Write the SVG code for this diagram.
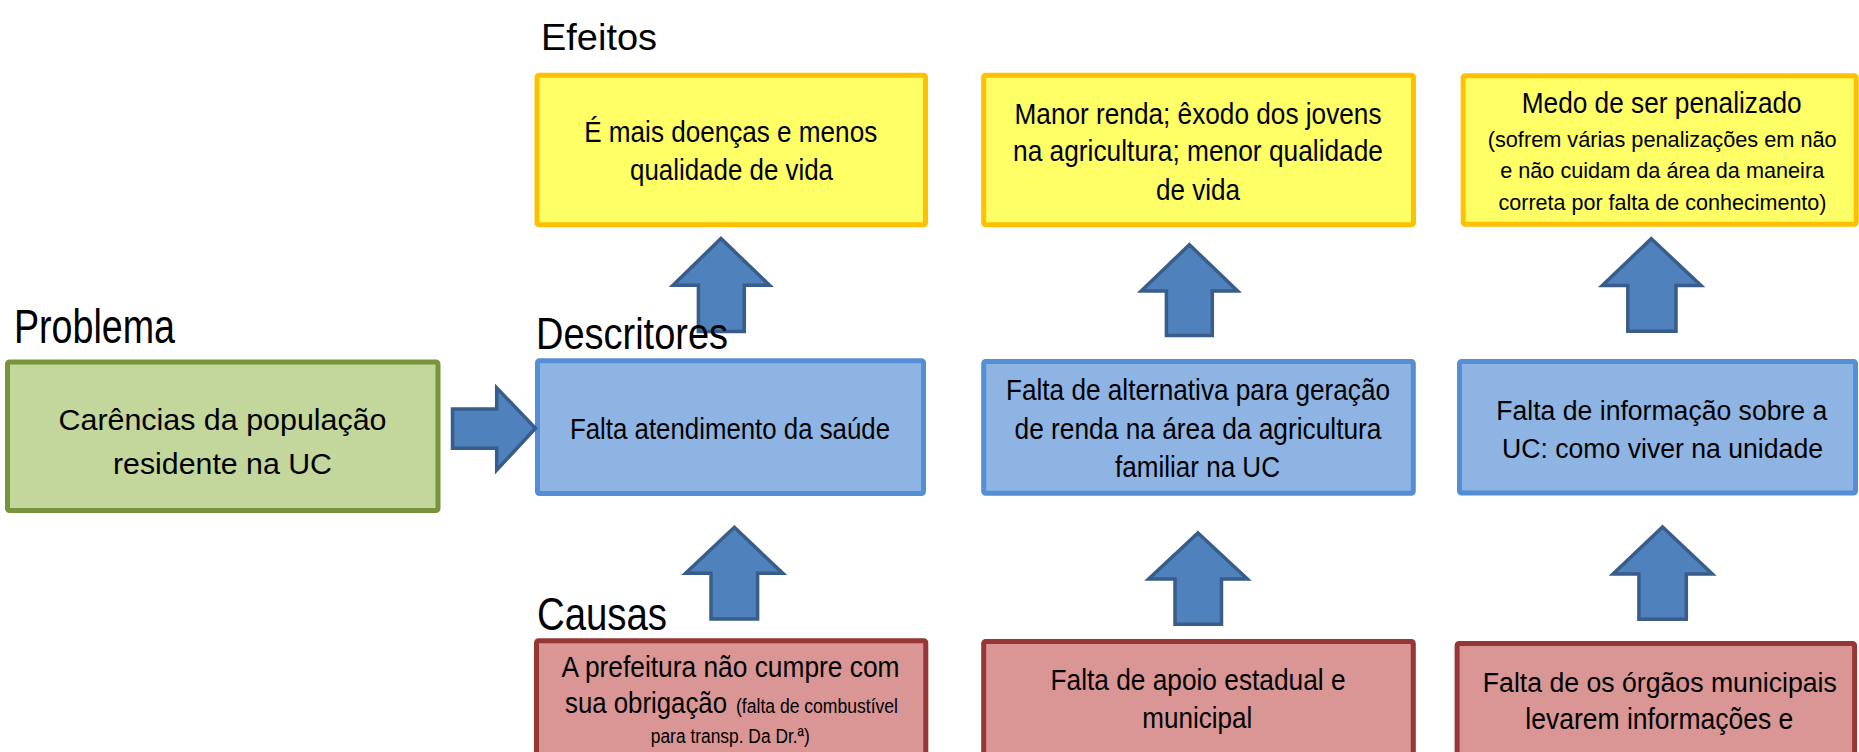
<svg xmlns="http://www.w3.org/2000/svg" width="1859" height="752" viewBox="0 0 1859 752">
<style>
text{font-family:"Liberation Sans",Arial,sans-serif;fill:#000}
.b{font-size:30px;text-anchor:middle}
.r{font-size:27px;text-anchor:middle}
.s{font-size:22.5px;text-anchor:middle}
.yel{fill:#FFFF66;stroke:#FFC000;stroke-width:5}
.blu{fill:#8EB4E3;stroke:#558ED5;stroke-width:5}
.red{fill:#D99694;stroke:#953735;stroke-width:5}
.grn{fill:#C3D69B;stroke:#77933C;stroke-width:5}
.arr{fill:#4F81BD;stroke:#385D8A;stroke-width:3.5;stroke-linejoin:miter}
</style>
<rect width="1859" height="752" fill="#fff"/>

<g id="problema">
<rect class="grn" x="7.5" y="362" width="430.5" height="148.5" rx="2"/>
<text class="b" x="222.5" y="430" font-size="31" textLength="328" lengthAdjust="spacingAndGlyphs">Carências da população</text>
<text class="b" x="222.5" y="474" font-size="31" textLength="219" lengthAdjust="spacingAndGlyphs">residente na UC</text>
</g>

<g id="efeito1">
<rect class="yel" x="537" y="75.2" width="388.5" height="149.6" rx="2"/>
<text class="b" x="730.7" y="141.7" textLength="293" lengthAdjust="spacingAndGlyphs">É mais doenças e menos</text>
<text class="b" x="731.5" y="180" textLength="203" lengthAdjust="spacingAndGlyphs">qualidade de vida</text>
</g>

<g id="efeito2">
<rect class="yel" x="983.7" y="75.2" width="429.8" height="149.6" rx="2"/>
<text class="b" x="1198" y="124" textLength="367" lengthAdjust="spacingAndGlyphs">Manor renda; êxodo dos jovens</text>
<text class="b" x="1198" y="160.7" textLength="370" lengthAdjust="spacingAndGlyphs">na agricultura; menor qualidade</text>
<text class="b" x="1198" y="200" textLength="84" lengthAdjust="spacingAndGlyphs">de vida</text>
</g>

<g id="efeito3">
<rect class="yel" x="1463.2" y="75.8" width="393" height="148.4" rx="2"/>
<text class="b" x="1661.7" y="113.3" textLength="280" lengthAdjust="spacingAndGlyphs">Medo de ser penalizado</text>
<text class="s" x="1662.2" y="147" textLength="349" lengthAdjust="spacingAndGlyphs">(sofrem várias penalizações em não</text>
<text class="s" x="1662.2" y="178.3" textLength="324" lengthAdjust="spacingAndGlyphs">e não cuidam da área da maneira</text>
<text class="s" x="1662.5" y="210" textLength="328" lengthAdjust="spacingAndGlyphs">correta por falta de conhecimento)</text>
</g>

<g id="descritor1">
<rect class="blu" x="537.5" y="360.8" width="386" height="132.7" rx="2"/>
<text class="b" x="730" y="439" textLength="320" lengthAdjust="spacingAndGlyphs">Falta atendimento da saúde</text>
</g>

<g id="descritor2">
<rect class="blu" x="983.7" y="361.5" width="429.6" height="131.7" rx="2"/>
<text class="b" x="1198" y="400" textLength="384" lengthAdjust="spacingAndGlyphs">Falta de alternativa para geração</text>
<text class="b" x="1198" y="439" textLength="367" lengthAdjust="spacingAndGlyphs">de renda na área da agricultura</text>
<text class="b" x="1197.5" y="476.7" textLength="165" lengthAdjust="spacingAndGlyphs">familiar na UC</text>
</g>

<g id="descritor3">
<rect class="blu" x="1459.5" y="361.5" width="396" height="131.5" rx="2"/>
<text class="r" x="1661.8" y="420.2" textLength="331" lengthAdjust="spacingAndGlyphs">Falta de informação sobre a</text>
<text class="r" x="1662.5" y="457.5" textLength="321" lengthAdjust="spacingAndGlyphs">UC: como viver na unidade</text>
</g>

<g id="causa1">
<rect class="red" x="536.5" y="640.8" width="389.3" height="130" rx="2"/>
<text class="b" x="730.5" y="676.7" textLength="338" lengthAdjust="spacingAndGlyphs">A prefeitura não cumpre com</text>
<text x="565" y="713.3" font-size="30" textLength="162" lengthAdjust="spacingAndGlyphs">sua obrigação</text>
<text x="736" y="713.3" font-size="20" textLength="162" lengthAdjust="spacingAndGlyphs">(falta de combustível</text>
<text x="730.3" y="742.7" font-size="20" text-anchor="middle" textLength="159" lengthAdjust="spacingAndGlyphs">para transp. Da Dr.ª)</text>
</g>

<g id="causa2">
<rect class="red" x="983.7" y="641.5" width="429.6" height="130" rx="2"/>
<text class="b" x="1198" y="690" textLength="295" lengthAdjust="spacingAndGlyphs">Falta de apoio estadual e</text>
<text class="b" x="1197.3" y="728.3" textLength="110" lengthAdjust="spacingAndGlyphs">municipal</text>
</g>

<g id="causa3">
<rect class="red" x="1457.1" y="643.5" width="397.5" height="130" rx="2"/>
<text class="r" x="1659.8" y="691.7" textLength="354" lengthAdjust="spacingAndGlyphs">Falta de os órgãos municipais</text>
<text class="b" x="1659.3" y="729" textLength="268" lengthAdjust="spacingAndGlyphs">levarem informações e</text>
</g>

<g id="connectors">
<path class="arr" d="M452.5,409 H496.7 V387.8 L535.5,428.3 L496.7,470 V448.3 H452.5 Z"/>
<path class="arr" d="M721,238.5 L769.5,285.2 H744.3 V331.5 H698.4 V285.2 H673 Z"/>
<path class="arr" d="M1189.4,244.7 L1237.6,291 H1212.3 V335.6 H1166.4 V291 H1141.2 Z"/>
<path class="arr" d="M1651.3,238.7 L1701,285.5 H1676 V331.3 H1627.8 V285.5 H1602.3 Z"/>
<path class="arr" d="M734.3,527.3 L782.8,573.3 H757.6 V619 H711 V573.3 H685.6 Z"/>
<path class="arr" d="M1198,533 L1247.4,579 H1221.5 V624.3 H1175 V579 H1148.6 Z"/>
<path class="arr" d="M1662.6,527 L1712.3,573.9 H1686.3 V619.3 H1638.9 V573.9 H1613 Z"/>
</g>

<g id="labels">
<text x="541" y="50" font-size="37" textLength="116" lengthAdjust="spacingAndGlyphs">Efeitos</text>
<text x="14" y="343" font-size="48" textLength="161" lengthAdjust="spacingAndGlyphs">Problema</text>
<text x="536" y="349" font-size="45" textLength="192" lengthAdjust="spacingAndGlyphs">Descritores</text>
<text x="537" y="630" font-size="46" textLength="130" lengthAdjust="spacingAndGlyphs">Causas</text>
</g>
</svg>
